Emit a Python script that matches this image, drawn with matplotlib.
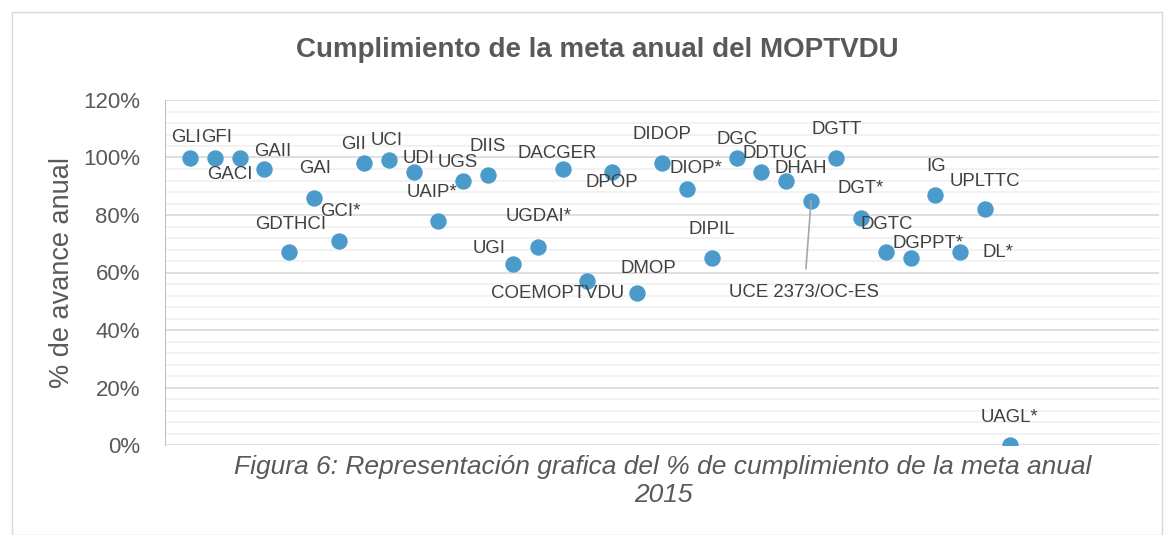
import matplotlib
matplotlib.use("Agg")
import matplotlib.pyplot as plt
import matplotlib.ticker as ticker
from matplotlib.patches import Rectangle
import numpy as np

# Data
units = ["GLI", "GFI", "GACI", "GAII", "GDTHCI", "GAI", "GCI*", "GII", "UCI", "UDI",
         "UAIP*", "UGS", "DIIS", "UGI", "UGDAI*", "DACGER", "COEMOPTVDU", "DPOP", "DMOP", "DIDOP",
         "DIOP*", "DIPIL", "DGC", "DDTUC", "DHAH", "UCE 2373/OC-ES", "DGTT", "DGT*", "DGTC", "DGPPT*",
         "IG", "DL*", "UPLTTC", "UAGL*"]
avance = [100, 100, 100, 96, 67, 86, 71, 98, 99, 95,
          78, 92, 94, 63, 69, 96, 57, 95, 53, 98,
          89, 65, 100, 95, 92, 85, 100, 79, 67, 65,
          87, 67, 82, 0]

# label offsets in pixels (dx, dy), dy positive = up
label_offsets = [(11, 20), (-14, 20), (-10, -17), (8, 18), (1, 28), (1, 29), (1, 29), (-10, 19), (-2, 20), (5, 13),
                 (-6, 28), (-5, 18), (0, 28), (-24, 15), (1, 30), (-5, 15), (-30, -12), (0, -11), (11, 24), (0, 29),
                 (9, 21), (0, 29), (1, 18), (14, 18), (14, 12), (-7, -92), (1, 28), (0, 29), (1, 28), (17, 15),
                 (1, 28), (38, 0), (0, 28), (0, 28)]
label_ha = ["right", "left"] + ["center"] * 32

plt.rcParams["font.family"] = ["Liberation Sans", "DejaVu Sans"]

fig = plt.figure(figsize=(11.74, 5.35), dpi=100)
fig.patches.append(Rectangle((12 / 1174, 0), (1162 - 12) / 1174, (535 - 12) / 535, transform=fig.transFigure,
                             fill=False, edgecolor="#d9d9d9", lw=1))
ax = fig.add_axes([165 / 1174, 90 / 535, (1159 - 165) / 1174, 345 / 535])

x = np.arange(1, len(avance) + 1)
y = np.array(avance) / 100
ax.plot(x, y, "o", color="#4a9bcc", markersize=10.8, zorder=3)

for xi, yi, lab, (dx, dy), ha in zip(x, y, units, label_offsets, label_ha):
    if lab == "UCE 2373/OC-ES":
        ax.annotate(lab, (xi, yi), xytext=(dx, dy), textcoords="offset pixels", ha=ha, va="center",
                    fontsize=13.4, color="#404040",
                    arrowprops=dict(arrowstyle="-", color="#a6a6a6", lw=1.2, shrinkA=9, shrinkB=0))
    else:
        ax.annotate(lab, (xi, yi), xytext=(dx, dy), textcoords="offset pixels", ha=ha, va="center",
                    fontsize=13.4, color="#404040")

ax.set_xlim(0, 40)
ax.set_ylim(0, 1.2)
ax.yaxis.set_major_locator(ticker.MultipleLocator(0.2))
ax.yaxis.set_minor_locator(ticker.MultipleLocator(0.04))
ax.yaxis.set_major_formatter(ticker.PercentFormatter(1.0, decimals=0))
ax.grid(axis="y", which="major", color="#d9d9d9", lw=1.2)
ax.grid(axis="y", which="minor", color="#f0f0f0", lw=1.2)
ax.set_axisbelow(True)
ax.set_xticks([])
ax.tick_params(axis="y", which="both", length=0, labelsize=16, labelcolor="#595959", pad=18)
for s in ["top", "right", "bottom"]:
    ax.spines[s].set_visible(False)
ax.spines["left"].set_color("#bfbfbf")
ax.set_ylabel("% de avance anual", fontsize=19.5, color="#595959", labelpad=6)

fig.text(597 / 1174, 1 - 50 / 535, "Cumplimiento de la meta anual del MOPTVDU", ha="center", va="center",
         fontsize=20, fontweight="bold", color="#595959")
fig.text(663 / 1174, 1 - 481 / 535, "Figura 6: Representación grafica del % de cumplimiento de la meta anual\n2015",
         ha="center", va="center", fontsize=19, style="italic", color="#595959", linespacing=1.2)

fig.savefig("out.png", dpi=100)
